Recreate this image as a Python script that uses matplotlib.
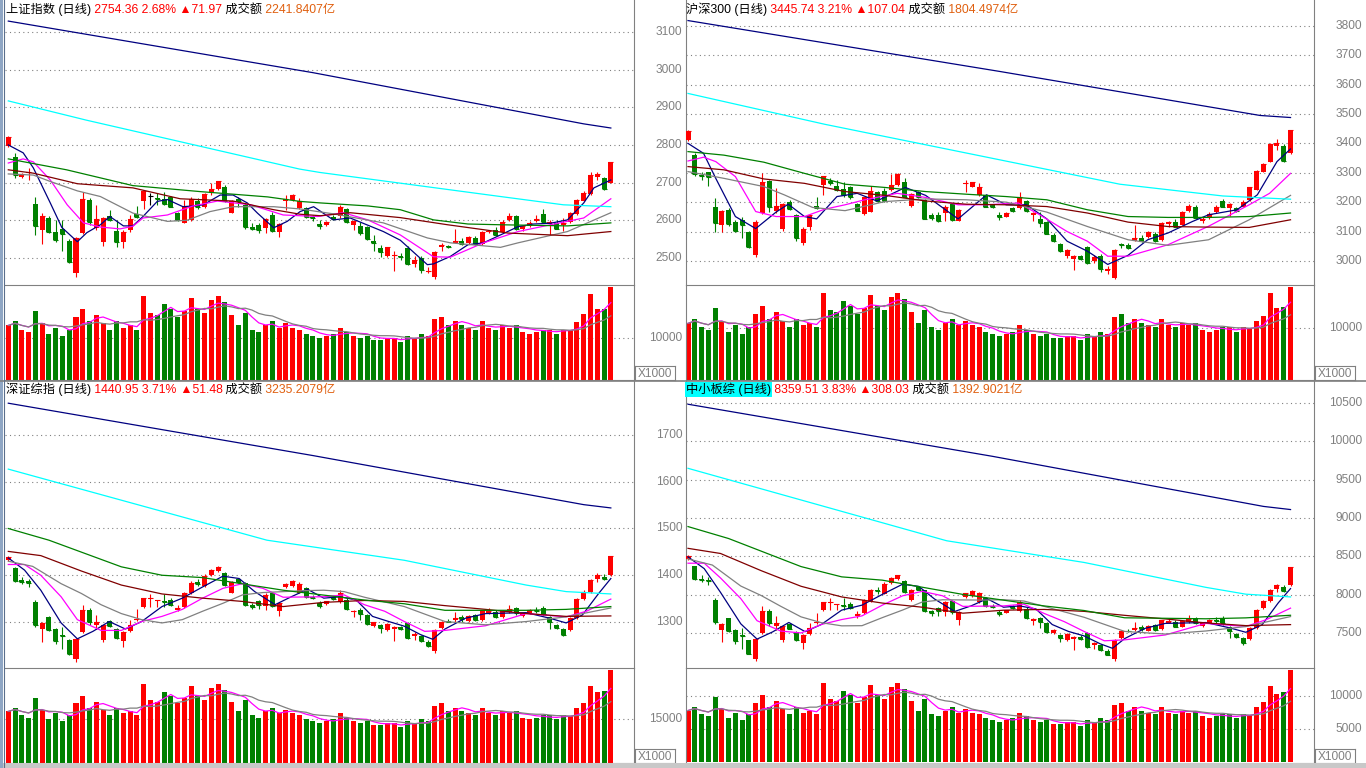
import matplotlib
matplotlib.use('Agg')
import matplotlib.pyplot as plt
import numpy as np
import pandas as pd

FONT = ['Liberation Sans', 'Noto Sans CJK SC', 'DejaVu Sans']
plt.rcParams['font.family'] = FONT

RED = '#FF0000'
GREEN = '#008000'
GRAY = '#808080'
ORANGE = '#E06010'
MA_COLORS = ['#000080', '#FF00FF', '#808080', '#800000', '#008000', '#00FFFF', '#000080']

# ---------------- 上证指数 ----------------
tl_open = [2796, 2769, 2716, 2725, 2643, 2574, 2607, 2569, 2576, 2546,
           2459, 2565, 2654, 2579, 2543, 2612, 2572, 2541, 2574, 2616,
           2650, 2665, 2660, 2657, 2662, 2620, 2594, 2601, 2651, 2635,
           2672, 2683, 2687, 2620, 2657, 2641, 2583, 2588, 2579, 2614,
           2568, 2650, 2654, 2632, 2632, 2609, 2590, 2588, 2608, 2610,
           2629, 2588, 2585, 2582, 2546, 2527, 2505, 2505, 2506, 2527,
           2484, 2501, 2462, 2449, 2530, 2532, 2539, 2546, 2539, 2554,
           2537, 2568, 2574, 2570, 2601, 2612, 2576, 2585, 2598, 2616,
           2590, 2592, 2588, 2595, 2616, 2652, 2670, 2716, 2713, 2700]
tl_high = [2824, 2778, 2725, 2738, 2663, 2619, 2612, 2601, 2601, 2549,
           2556, 2676, 2658, 2641, 2608, 2628, 2601, 2574, 2614, 2638,
           2678, 2672, 2673, 2676, 2664, 2622, 2654, 2663, 2658, 2672,
           2700, 2705, 2694, 2655, 2663, 2645, 2592, 2592, 2606, 2623,
           2592, 2667, 2670, 2658, 2636, 2614, 2601, 2598, 2614, 2641,
           2632, 2601, 2596, 2584, 2561, 2534, 2530, 2517, 2514, 2531,
           2505, 2505, 2477, 2517, 2539, 2535, 2576, 2554, 2557, 2557,
           2572, 2574, 2581, 2601, 2619, 2614, 2588, 2597, 2614, 2629,
           2601, 2601, 2605, 2622, 2656, 2679, 2729, 2729, 2716, 2756]
tl_low = [2794, 2712, 2713, 2707, 2561, 2537, 2565, 2541, 2519, 2486,
          2450, 2563, 2588, 2575, 2531, 2598, 2530, 2525, 2570, 2605,
          2629, 2640, 2641, 2640, 2634, 2598, 2592, 2598, 2630, 2632,
          2668, 2680, 2648, 2618, 2636, 2578, 2575, 2565, 2566, 2570,
          2556, 2627, 2650, 2630, 2605, 2598, 2578, 2586, 2600, 2607,
          2594, 2575, 2562, 2548, 2519, 2502, 2503, 2464, 2495, 2482,
          2477, 2459, 2459, 2443, 2519, 2527, 2539, 2535, 2537, 2534,
          2535, 2565, 2558, 2568, 2599, 2574, 2572, 2583, 2596, 2594,
          2561, 2576, 2572, 2593, 2614, 2650, 2667, 2707, 2680, 2698]
tl_close = [2822, 2720, 2722, 2729, 2585, 2610, 2569, 2548, 2564, 2488,
            2552, 2657, 2596, 2604, 2605, 2601, 2543, 2570, 2604, 2608,
            2678, 2665, 2657, 2642, 2636, 2601, 2635, 2656, 2635, 2670,
            2682, 2704, 2651, 2651, 2651, 2581, 2578, 2574, 2603, 2572,
            2589, 2656, 2667, 2651, 2608, 2606, 2585, 2596, 2603, 2635,
            2596, 2599, 2565, 2550, 2539, 2515, 2528, 2507, 2502, 2484,
            2495, 2468, 2464, 2515, 2535, 2529, 2545, 2537, 2555, 2537,
            2570, 2572, 2561, 2596, 2612, 2576, 2585, 2592, 2604, 2596,
            2596, 2578, 2592, 2619, 2654, 2673, 2720, 2722, 2682, 2754]
tl_vol = [13000, 14000, 12000, 11500, 16500, 13500, 11000, 12500, 10500, 12000,
          15000, 17000, 14000, 15500, 13500, 12000, 14000, 12500, 13000, 12000,
          20000, 16000, 15500, 18000, 17000, 15000, 16500, 19500, 17000, 16000,
          19000, 20000, 18500, 15500, 13000, 16000, 12000, 11500, 13000, 14000,
          12500, 13500, 12500, 12000, 11000, 10500, 10000, 10500, 11000, 12500,
          11500, 10500, 10000, 10500, 9500, 9500, 10000, 10000, 9000, 10500,
          10000, 11000, 10500, 14500, 15000, 13000, 14000, 13000, 12500, 12000,
          14000, 12500, 12000, 13000, 12500, 13000, 11500, 11000, 11500, 12000,
          12000, 11000, 12000, 11900, 13800, 15700, 20500, 16900, 16900, 22100]
# moving averages: (candle index, value)
tl_ma5 = [(0, 2800), (2.2, 2779), (3.7, 2739), (6.2, 2646), (7.9, 2581), (10.2, 2543),
          (11.6, 2567), (13.6, 2588), (15.0, 2610), (17.0, 2585), (18.4, 2585), (19.9, 2610),
          (22.0, 2650), (23.5, 2655), (25.8, 2636), (27.3, 2638), (28.8, 2641), (31.3, 2667),
          (33.2, 2667), (35.3, 2646), (36.8, 2619), (39.2, 2580), (41.2, 2597), (43.1, 2623),
          (45.1, 2636), (48.0, 2601), (50.5, 2606), (55.4, 2570), (57.9, 2547), (61.9, 2482),
          (62.8, 2484), (65.3, 2504), (67.9, 2535), (70.2, 2540), (72.7, 2561), (75.3, 2583),
          (77.6, 2590), (80.1, 2592), (82.6, 2601), (85.0, 2646), (86.5, 2686), (89, 2707)]
tl_ma10 = [(0, 2752), (2.2, 2763), (3.7, 2755), (6.2, 2707), (8.7, 2641), (11.1, 2593),
           (13.6, 2582), (16.5, 2577), (18.4, 2584), (19.9, 2606), (23.5, 2614), (27.3, 2638),
           (30.9, 2651), (35.8, 2641), (40.6, 2614), (45.7, 2610), (49.5, 2620), (53.1, 2601),
           (57.9, 2561), (62.8, 2503), (65.3, 2502), (70.2, 2540), (75.3, 2570), (80.1, 2588),
           (85.0, 2606), (89, 2657)]
tl_ma20 = [(0, 2723), (3.7, 2720), (6.2, 2703), (10.2, 2678), (13.6, 2663), (18.4, 2619),
           (23.5, 2597), (26.4, 2600), (29.8, 2623), (33.2, 2636), (39.2, 2636), (43.1, 2630),
           (48.0, 2617), (55.4, 2593), (61.9, 2553), (65.3, 2540), (72.7, 2528), (75.3, 2540),
           (82.6, 2570), (89, 2620)]
tl_ma30 = [(0, 2734), (3.7, 2725), (10.2, 2697), (18.4, 2686), (25.4, 2657), (33.2, 2651),
           (39.2, 2628), (43.1, 2616), (46.1, 2612), (50.5, 2620), (57.9, 2607), (64.9, 2588),
           (73.8, 2566), (82.6, 2559), (89, 2570)]
tl_ma60 = [(0, 2763), (8.6, 2734), (18.4, 2692), (28.4, 2676), (38.3, 2662), (43.1, 2650),
           (46.1, 2646), (53.1, 2638), (57.9, 2628), (62.8, 2601), (67.9, 2590), (72.7, 2588),
           (82.6, 2585), (89, 2593)]
tl_ma120 = [(0, 2917), (11.5, 2866), (43, 2736), (46, 2727), (72.7, 2663), (82, 2641), (89, 2636)]
tl_ma250 = [(0, 3129), (45, 2992), (85, 2856), (89, 2845)]

# ---------------- 沪深300 ----------------
tr_open = [3411, 3360, 3291, 3301, 3182, 3123, 3174, 3131, 3138, 3100,
           3019, 3163, 3272, 3171, 3110, 3202, 3155, 3061, 3117, 3186,
           3259, 3273, 3255, 3244, 3252, 3193, 3159, 3168, 3233, 3238,
           3242, 3259, 3270, 3188, 3233, 3206, 3155, 3155, 3163, 3195,
           3137, 3263, 3253, 3225, 3223, 3191, 3157, 3151, 3180, 3180,
           3204, 3157, 3142, 3134, 3087, 3058, 3018, 3008, 3016, 3047,
           2999, 3018, 2965, 2942, 3058, 3053, 3067, 3078, 3080, 3093,
           3072, 3126, 3134, 3123, 3171, 3185, 3137, 3146, 3166, 3204,
           3180, 3180, 3185, 3208, 3242, 3304, 3338, 3391, 3391, 3366]
tr_high = [3444, 3366, 3304, 3303, 3214, 3174, 3180, 3140, 3151, 3102,
           3138, 3298, 3276, 3247, 3196, 3208, 3159, 3117, 3159, 3219,
           3289, 3281, 3276, 3270, 3255, 3197, 3219, 3255, 3238, 3247,
           3295, 3298, 3281, 3230, 3238, 3209, 3163, 3166, 3191, 3197,
           3176, 3276, 3270, 3264, 3225, 3194, 3168, 3166, 3185, 3236,
           3208, 3168, 3168, 3137, 3095, 3061, 3042, 3021, 3019, 3050,
           3021, 3024, 2982, 3041, 3061, 3061, 3121, 3089, 3103, 3098,
           3132, 3137, 3143, 3171, 3194, 3189, 3151, 3166, 3191, 3211,
           3197, 3185, 3208, 3253, 3308, 3334, 3400, 3415, 3397, 3446]
tr_low = [3409, 3290, 3277, 3255, 3098, 3098, 3120, 3100, 3078, 3045,
          3012, 3160, 3166, 3163, 3101, 3174, 3067, 3055, 3106, 3177,
          3225, 3259, 3238, 3218, 3212, 3169, 3157, 3166, 3200, 3201,
          3238, 3256, 3216, 3185, 3213, 3141, 3140, 3133, 3137, 3135,
          3135, 3236, 3250, 3222, 3183, 3179, 3140, 3148, 3168, 3177,
          3168, 3137, 3117, 3090, 3066, 3030, 3010, 2968, 3002, 2990,
          2993, 2963, 2956, 2937, 3044, 3041, 3067, 3066, 3078, 3066,
          3069, 3117, 3114, 3121, 3168, 3143, 3129, 3143, 3163, 3182,
          3154, 3168, 3182, 3205, 3240, 3301, 3335, 3378, 3337, 3364]
tr_close = [3442, 3295, 3288, 3284, 3128, 3171, 3125, 3103, 3121, 3047,
            3134, 3270, 3185, 3188, 3194, 3177, 3078, 3110, 3155, 3180,
            3289, 3264, 3241, 3223, 3216, 3171, 3216, 3238, 3204, 3204,
            3259, 3295, 3219, 3228, 3216, 3143, 3146, 3137, 3185, 3140,
            3174, 3265, 3268, 3253, 3185, 3182, 3148, 3163, 3171, 3219,
            3171, 3162, 3129, 3093, 3069, 3033, 3038, 3018, 3005, 2993,
            3012, 2974, 2971, 3038, 3055, 3044, 3078, 3069, 3097, 3069,
            3129, 3131, 3117, 3168, 3188, 3146, 3143, 3160, 3185, 3185,
            3194, 3171, 3202, 3250, 3306, 3330, 3398, 3400, 3340, 3446]
tr_vol = [10900, 11800, 10100, 9700, 13900, 11300, 9200, 10500, 8800, 10100,
          12600, 14300, 11800, 13000, 11300, 10100, 11800, 10500, 10900, 10100,
          16800, 13400, 13000, 15100, 14300, 12600, 13900, 16400, 14300, 13400,
          16000, 16800, 15500, 13000, 10900, 13400, 10100, 9700, 10900, 11800,
          10500, 11300, 10500, 10100, 9200, 8800, 8400, 8800, 9200, 10500,
          9700, 8800, 8400, 8800, 8000, 8000, 8400, 8400, 7600, 8800,
          8400, 9200, 8800, 12200, 12600, 10900, 11800, 10900, 10500, 10100,
          11800, 10500, 10100, 10900, 10500, 10900, 9700, 9200, 9700, 10100,
          10100, 9200, 10100, 10000, 11300, 12300, 16700, 13850, 14000, 17900]
tr_ma5 = [(0, 3400), (2.3, 3366), (4.1, 3281), (7.0, 3151), (10.0, 3110), (13.0, 3166),
          (14.8, 3193), (17.2, 3151), (19.0, 3143), (22.0, 3219), (25.0, 3230), (27.9, 3204),
          (32.1, 3250), (35.1, 3223), (39.9, 3143), (44.1, 3225), (47.0, 3191), (50.0, 3191),
          (53.0, 3143), (56.0, 3067), (59.0, 3033), (62.0, 2988), (65.0, 3019), (67.9, 3072),
          (70.9, 3095), (74.5, 3134), (76.9, 3157), (81.1, 3174), (84.1, 3225), (87.0, 3338),
          (89, 3381)]
tr_ma10 = [(0, 3340), (2.3, 3353), (4.1, 3338), (7.0, 3287), (10.0, 3168), (13.0, 3151),
           (17.2, 3151), (20.2, 3176), (23.2, 3191), (26.1, 3208), (30.9, 3230), (35.1, 3216),
           (39.9, 3191), (44.1, 3191), (48.8, 3197), (51.8, 3159), (56.0, 3100), (59.0, 3067),
           (62.0, 3016), (65.0, 3016), (70.9, 3055), (76.9, 3118), (82.9, 3191), (85.9, 3230),
           (89, 3298)]
tr_ma20 = [(0, 3304), (5.3, 3281), (11.2, 3253), (14.2, 3225), (18.4, 3182), (23.2, 3171),
           (29.1, 3202), (35.1, 3211), (41.1, 3208), (47.0, 3200), (53.0, 3166), (59.0, 3117),
           (65.0, 3072), (70.9, 3053), (76.9, 3072), (82.9, 3140), (89, 3223)]
tr_ma30 = [(0, 3321), (5.3, 3310), (11.2, 3279), (17.2, 3264), (23.2, 3236), (29.1, 3223),
           (35.1, 3204), (41.1, 3193), (47.0, 3191), (53.0, 3185), (59.0, 3163), (65.0, 3132),
           (70.9, 3117), (76.9, 3115), (82.9, 3114), (89, 3140)]
tr_ma60 = [(0, 3372), (5.3, 3360), (11.2, 3336), (17.2, 3298), (23.2, 3261), (29.1, 3250),
           (35.1, 3236), (41.1, 3227), (47.0, 3219), (53.0, 3208), (59.0, 3174), (65.0, 3151),
           (70.9, 3148), (76.9, 3148), (82.9, 3151), (89, 3163)]
tr_ma120 = [(0, 3570), (20.2, 3465), (63.8, 3261), (79, 3221), (89, 3210)]
tr_ma250 = [(0, 3818), (46, 3645), (84.5, 3495), (89, 3488)]

# ---------------- 深证综指 ----------------
bl_open = [1432, 1416, 1389, 1387, 1342, 1284, 1311, 1284, 1273, 1261,
           1220, 1278, 1326, 1294, 1261, 1303, 1284, 1259, 1280, 1304,
           1333, 1349, 1344, 1345, 1347, 1326, 1333, 1361, 1386, 1377,
           1400, 1409, 1405, 1363, 1391, 1384, 1337, 1344, 1335, 1361,
           1323, 1374, 1377, 1363, 1372, 1354, 1340, 1339, 1353, 1342,
           1347, 1321, 1326, 1315, 1292, 1294, 1282, 1285, 1289, 1298,
           1270, 1271, 1257, 1238, 1287, 1303, 1305, 1311, 1303, 1315,
           1305, 1320, 1322, 1311, 1322, 1330, 1313, 1320, 1326, 1330,
           1311, 1294, 1284, 1282, 1308, 1349, 1365, 1391, 1396, 1400]
bl_high = [1441, 1418, 1396, 1393, 1346, 1299, 1312, 1287, 1289, 1263,
           1266, 1337, 1330, 1315, 1294, 1305, 1287, 1280, 1305, 1327,
           1351, 1360, 1347, 1360, 1351, 1337, 1365, 1388, 1391, 1403,
           1414, 1419, 1407, 1388, 1393, 1386, 1340, 1347, 1361, 1363,
           1342, 1384, 1389, 1386, 1375, 1358, 1344, 1345, 1356, 1368,
           1351, 1326, 1330, 1318, 1301, 1296, 1298, 1291, 1292, 1299,
           1278, 1273, 1261, 1284, 1303, 1306, 1322, 1315, 1315, 1318,
           1326, 1330, 1326, 1326, 1337, 1332, 1320, 1327, 1333, 1335,
           1313, 1296, 1287, 1310, 1351, 1368, 1391, 1404, 1402, 1441]
bl_low = [1430, 1386, 1382, 1374, 1289, 1257, 1280, 1254, 1242, 1230,
          1215, 1276, 1294, 1284, 1257, 1290, 1263, 1247, 1278, 1303,
          1331, 1333, 1333, 1333, 1335, 1323, 1331, 1359, 1377, 1375,
          1398, 1407, 1378, 1361, 1384, 1335, 1327, 1327, 1326, 1332,
          1312, 1372, 1375, 1361, 1352, 1349, 1331, 1337, 1347, 1340,
          1325, 1311, 1305, 1294, 1290, 1277, 1280, 1259, 1282, 1264,
          1261, 1257, 1247, 1234, 1285, 1299, 1301, 1301, 1301, 1303,
          1303, 1318, 1309, 1309, 1320, 1316, 1311, 1318, 1320, 1315,
          1284, 1285, 1270, 1280, 1306, 1347, 1363, 1386, 1389, 1399]
bl_close = [1440, 1388, 1386, 1384, 1294, 1298, 1282, 1259, 1270, 1232,
            1264, 1326, 1299, 1299, 1294, 1292, 1266, 1278, 1294, 1306,
            1351, 1351, 1346, 1342, 1337, 1330, 1363, 1384, 1382, 1398,
            1411, 1418, 1380, 1386, 1386, 1337, 1333, 1337, 1358, 1335,
            1340, 1382, 1387, 1382, 1354, 1351, 1335, 1344, 1349, 1363,
            1327, 1324, 1318, 1296, 1299, 1287, 1296, 1289, 1284, 1266,
            1275, 1259, 1249, 1282, 1301, 1301, 1308, 1306, 1313, 1305,
            1325, 1324, 1311, 1324, 1327, 1319, 1319, 1325, 1323, 1318,
            1301, 1287, 1273, 1308, 1349, 1365, 1389, 1400, 1391, 1441]
bl_vol = [17600, 18900, 16200, 15500, 22300, 18200, 14900, 16900, 14200, 16200,
          20300, 23000, 18900, 20900, 18200, 16200, 18900, 16900, 17600, 16200,
          27000, 21600, 20900, 24300, 23000, 20300, 22300, 26300, 23000, 21600,
          25700, 27000, 25000, 20900, 17600, 21600, 16200, 15500, 17600, 18900,
          16900, 18200, 16900, 16200, 14900, 14200, 13500, 14200, 14900, 16900,
          15500, 14200, 13500, 14200, 12800, 12800, 13500, 13500, 12200, 14200,
          13500, 14900, 14200, 19600, 20300, 17600, 18900, 17600, 16900, 16200,
          18900, 16900, 16200, 17600, 16900, 17600, 15500, 14900, 15500, 16200,
          16200, 14900, 16200, 16100, 18600, 20460, 26250, 24200, 24550, 31700]
bl_ma5 = [(0, 1437), (2.4, 1411), (4.8, 1368), (7.8, 1298), (10.2, 1264), (12.5, 1280),
          (14.9, 1301), (17.3, 1285), (19.7, 1301), (22.7, 1333), (25.7, 1351), (28.7, 1375),
          (31.7, 1398), (34.1, 1393), (36.4, 1365), (39.4, 1337), (41.8, 1354), (44.2, 1370),
          (46.6, 1351), (49.0, 1354), (51.4, 1347), (53.8, 1312), (56.2, 1301), (58.5, 1291),
          (60.9, 1273), (62.7, 1263), (64.5, 1285), (67.5, 1308), (70.5, 1318), (76.5, 1320),
          (80.0, 1308), (82.4, 1298), (84.8, 1315), (87.2, 1361), (89, 1393)]
bl_ma10 = [(0, 1423), (2.4, 1423), (4.8, 1400), (7.8, 1354), (10.2, 1305), (13.7, 1282),
           (16.7, 1282), (19.7, 1301), (22.7, 1312), (25.7, 1327), (28.7, 1351), (31.7, 1372),
           (34.6, 1382), (37.6, 1372), (40.6, 1353), (46.6, 1354), (49.6, 1358), (52.6, 1337),
           (55.6, 1323), (58.5, 1301), (61.5, 1280), (64.5, 1282), (70.5, 1292), (76.5, 1318),
           (82.4, 1311), (85.4, 1323), (89, 1349)]
bl_ma20 = [(0, 1430), (3.6, 1419), (7.8, 1382), (10.8, 1361), (13.7, 1337), (16.7, 1318),
           (19.7, 1305), (22.7, 1298), (25.7, 1305), (28.7, 1323), (31.7, 1340), (34.6, 1358),
           (37.6, 1363), (43.6, 1367), (46.6, 1368), (49.6, 1365), (52.6, 1353), (58.5, 1333),
           (64.5, 1301), (70.5, 1294), (76.5, 1301), (82.4, 1311), (89, 1330)]
bl_ma30 = [(0, 1451), (4.8, 1442), (10.8, 1409), (16.7, 1379), (22.7, 1360), (28.7, 1351),
           (34.6, 1344), (40.6, 1333), (46.6, 1342), (52.6, 1346), (58.5, 1344), (64.5, 1335),
           (70.5, 1327), (76.5, 1318), (82.4, 1312), (89, 1313)]
bl_ma60 = [(0, 1500), (6.0, 1475), (16.7, 1418), (22.7, 1400), (28.7, 1395), (40.6, 1368),
           (52.6, 1347), (58.5, 1339), (64.5, 1325), (76.5, 1325), (82.4, 1327), (89, 1333)]
bl_ma120 = [(0, 1627), (38.2, 1475), (58.5, 1432), (76.5, 1379), (82.4, 1365), (89, 1360)]
bl_ma250 = [(0, 1768), (45, 1656), (85, 1551), (89, 1544)]

# ---------------- 中小板综 ----------------
br_open = [8463, 8369, 8209, 8197, 7931, 7537, 7696, 7537, 7473, 7402,
           7161, 7502, 7784, 7596, 7402, 7623, 7511, 7365, 7488, 7628,
           7798, 7892, 7862, 7868, 7880, 7717, 7758, 7921, 8067, 8014,
           8148, 8200, 8177, 7933, 8096, 8055, 7781, 7822, 7770, 7921,
           7673, 7969, 7987, 7905, 7958, 7853, 7772, 7766, 7847, 7784,
           7813, 7662, 7691, 7627, 7494, 7479, 7410, 7427, 7450, 7502,
           7341, 7346, 7265, 7156, 7439, 7531, 7543, 7578, 7531, 7601,
           7549, 7636, 7648, 7584, 7648, 7694, 7596, 7636, 7671, 7694,
           7584, 7486, 7428, 7416, 7567, 7824, 7917, 8068, 8097, 8120]
br_high = [8516, 8380, 8250, 8233, 7955, 7625, 7701, 7555, 7566, 7414,
           7431, 7848, 7807, 7719, 7596, 7634, 7529, 7488, 7634, 7763,
           7903, 7956, 7880, 7956, 7903, 7781, 7944, 8078, 8096, 8165,
           8230, 8259, 8189, 8078, 8107, 8067, 7799, 7840, 7921, 7933,
           7784, 8027, 8056, 8039, 7975, 7876, 7795, 7801, 7865, 7934,
           7836, 7691, 7714, 7644, 7546, 7491, 7502, 7462, 7468, 7508,
           7387, 7358, 7289, 7422, 7531, 7549, 7641, 7601, 7601, 7618,
           7671, 7694, 7671, 7671, 7735, 7706, 7636, 7677, 7711, 7723,
           7596, 7497, 7445, 7578, 7816, 7934, 8068, 8143, 8132, 8362]
br_low = [8451, 8191, 8168, 8120, 7618, 7379, 7514, 7361, 7291, 7220,
          7132, 7490, 7596, 7537, 7379, 7547, 7389, 7295, 7476, 7623,
          7786, 7798, 7798, 7798, 7810, 7700, 7746, 7909, 8014, 8003,
          8136, 8189, 8020, 7921, 8055, 7770, 7723, 7723, 7717, 7752,
          7610, 7958, 7975, 7894, 7842, 7824, 7720, 7755, 7813, 7772,
          7685, 7604, 7569, 7505, 7482, 7381, 7398, 7277, 7410, 7306,
          7289, 7265, 7208, 7133, 7427, 7508, 7520, 7520, 7520, 7531,
          7538, 7625, 7573, 7573, 7636, 7613, 7584, 7625, 7636, 7607,
          7428, 7434, 7347, 7405, 7555, 7813, 7905, 8039, 8040, 8114]
br_close = [8510, 8203, 8191, 8179, 7648, 7619, 7525, 7390, 7455, 7232,
            7420, 7784, 7625, 7625, 7596, 7558, 7406, 7476, 7570, 7640,
            7903, 7903, 7874, 7851, 7821, 7741, 7933, 8055, 8043, 8136,
            8212, 8253, 8032, 8067, 8067, 7781, 7758, 7781, 7904, 7770,
            7772, 8016, 8045, 8016, 7853, 7836, 7743, 7795, 7824, 7905,
            7697, 7679, 7644, 7517, 7534, 7439, 7491, 7450, 7422, 7317,
            7370, 7277, 7219, 7410, 7520, 7520, 7560, 7549, 7589, 7543,
            7665, 7659, 7584, 7659, 7677, 7630, 7630, 7665, 7654, 7625,
            7526, 7445, 7364, 7567, 7804, 7917, 8056, 8120, 8051, 8360]
br_vol = [7800, 8400, 7200, 6900, 9900, 8100, 6600, 7500, 6300, 7200,
          9000, 10200, 8400, 9300, 8100, 7200, 8400, 7500, 7800, 7200,
          12000, 9600, 9300, 10800, 10200, 9000, 9900, 11700, 10200, 9600,
          11400, 12000, 11100, 9300, 7800, 9600, 7200, 6900, 7800, 8400,
          7500, 8100, 7500, 7200, 6600, 6300, 6000, 6300, 6600, 7500,
          6900, 6300, 6000, 6300, 5700, 5700, 6000, 6000, 5400, 6300,
          6000, 6600, 6300, 8700, 9000, 7800, 8400, 7800, 7500, 7200,
          8400, 7500, 7200, 7800, 7500, 7800, 6900, 6600, 6900, 7200,
          7200, 6600, 7200, 7100, 8300, 9140, 11560, 10300, 10650, 13940]
br_ma5 = [(0, 8493), (2.4, 8339), (4.8, 8030), (7.8, 7619), (10.2, 7420), (12.5, 7514),
          (14.9, 7637), (17.3, 7517), (19.7, 7611), (22.7, 7798), (25.7, 7863), (28.7, 8003),
          (31.7, 8136), (34.1, 8107), (36.4, 7944), (39.4, 7781), (41.8, 7853), (44.2, 7946),
          (46.6, 7836), (49.0, 7853), (51.4, 7813), (53.8, 7610), (56.2, 7520), (58.5, 7462),
          (60.9, 7358), (62.7, 7300), (64.5, 7427), (67.5, 7560), (70.5, 7625), (76.5, 7636),
          (80.0, 7567), (82.4, 7509), (84.8, 7607), (87.2, 7894), (89, 8079)]
br_ma10 = [(0, 8410), (2.4, 8410), (4.8, 8218), (7.8, 7948), (10.2, 7660), (13.7, 7525),
           (16.7, 7500), (19.7, 7611), (22.7, 7675), (25.7, 7723), (28.7, 7863), (31.7, 7985),
           (34.6, 8043), (37.6, 7985), (40.6, 7847), (46.6, 7853), (49.6, 7876), (52.6, 7755),
           (55.6, 7647), (58.5, 7520), (61.5, 7398), (64.5, 7410), (70.5, 7474), (76.5, 7625),
           (82.4, 7584), (85.4, 7673), (89, 7824)]
br_ma20 = [(0, 8466), (3.6, 8386), (7.8, 8112), (10.8, 7989), (13.7, 7848), (16.7, 7710),
           (19.7, 7634), (22.7, 7593), (25.7, 7595), (28.7, 7700), (31.7, 7799), (34.6, 7904),
           (37.6, 7933), (43.6, 7929), (46.6, 7934), (49.6, 7917), (52.6, 7847), (58.5, 7705),
           (64.5, 7520), (70.5, 7486), (76.5, 7526), (82.4, 7584), (89, 7714)]
br_ma30 = [(0, 8604), (4.8, 8537), (10.8, 8313), (16.7, 8109), (22.7, 7970), (28.7, 7890),
           (34.6, 7836), (40.6, 7758), (46.6, 7797), (52.6, 7807), (58.5, 7782), (64.5, 7730),
           (70.5, 7683), (76.5, 7631), (82.4, 7596), (89, 7609)]
br_ma60 = [(0, 8888), (6.0, 8732), (16.7, 8366), (22.7, 8232), (28.7, 8189), (40.6, 8003),
           (52.6, 7853), (58.5, 7793), (64.5, 7698), (76.5, 7685), (82.4, 7697), (89, 7731)]
br_ma120 = [(0, 9648), (38.2, 8703), (58.5, 8420), (76.5, 8095), (82.4, 8006), (89, 7970)]
br_ma250 = [(0, 10484), (45, 9804), (85, 9151), (89, 9110)]


def pts(p):
    a = np.array(p, dtype=float)
    return a[:, 0], a[:, 1]


W, H = 1366, 768
fig = plt.figure(figsize=(W / 100, H / 100), dpi=100)
fig.patch.set_facecolor('white')


def px_axes(x0, y0, x1, y1):
    return fig.add_axes([x0 / W, 1 - y1 / H, (x1 - x0) / W, (y1 - y0) / H])


def style(ax, x0, x1, first_px, left_spine):
    sp = 6.77
    ax.set_xlim((x0 - first_px) / sp, (x1 - first_px) / sp)
    ax.set_xticks([])
    ax.set_yticks([])
    for s in ['top', 'left']:
        ax.spines[s].set_visible(False)
    for s in ['right', 'bottom']:
        ax.spines[s].set_color(GRAY)
        ax.spines[s].set_linewidth(0.8)
    if left_spine:
        ax.spines['left'].set_visible(True)
        ax.spines['left'].set_color(GRAY)
        ax.spines['left'].set_linewidth(0.8)
    ax.patch.set_alpha(0)


def yticks(ax, ticks):
    for t in ticks:
        ax.axhline(t, color=GRAY, lw=0.8, ls=(0, (1, 3)), zorder=1)
        ax.text(1.0764, t, str(t), transform=ax.get_yaxis_transform(), ha='right', va='center',
                color=GRAY, fontsize=8.6, clip_on=False)


def candles(ax, o, h, l, c):
    o, h, l, c = (np.asarray(v, dtype=float) for v in (o, h, l, c))
    idx = np.arange(len(c))
    cols = np.where(c > o, RED, np.where(c < o, GREEN, 'black'))
    ax.vlines(idx, l, h, colors=cols, lw=0.8, zorder=2)
    ax.bar(idx, np.abs(c - o), bottom=np.minimum(o, c), width=0.74, color=cols, lw=0, zorder=3)
    ax.hlines(c, idx - 0.37, idx + 0.37, colors=cols, lw=0.8, zorder=3)
    return np.where(c >= o, RED, GREEN)


def panel(x0, x1, ytop, ysplit, ybot, first_px, left_spine, o, h, l, c, vol, mas,
          plim, pticks, vlim, vticks):
    ax = px_axes(x0, ytop, x1, ysplit)
    av = px_axes(x0, ysplit, x1, ybot)
    style(ax, x0, x1, first_px, left_spine)
    style(av, x0, x1, first_px, left_spine)
    ax.set_ylim(*plim)
    av.set_ylim(*vlim)
    yticks(ax, pticks)
    yticks(av, vticks)
    cols = candles(ax, o, h, l, c)
    for m, col in zip(mas, MA_COLORS):
        xs, ys = pts(m)
        ax.plot(xs, ys, color=col, lw=0.9, zorder=4)
    idx = np.arange(len(vol))
    av.bar(idx, vol, width=0.74, color=cols, lw=0, zorder=2)
    v = pd.Series(vol, dtype=float)
    av.plot(idx, v.rolling(5, min_periods=1).mean(), color='#FF00FF', lw=0.9, zorder=3)
    av.plot(idx, v.rolling(10, min_periods=1).mean(), color=GRAY, lw=0.9, zorder=3)
    # X1000 box
    bx = fig.add_axes([(x1 + 1) / W, 1 - ybot / H, 40 / W, 14 / H])
    bx.set_xticks([])
    bx.set_yticks([])
    for s in bx.spines.values():
        s.set_color(GRAY)
    bx.text(0.5, 0.45, 'X1000', ha='center', va='center', color=GRAY, fontsize=8.6,
            transform=bx.transAxes)
    return ax


def header(x_px, y_px, parts, bg=None):
    r = fig.canvas.get_renderer()
    x = x_px
    for k, (txt, col) in enumerate(parts):
        t = fig.text(x / W, 1 - y_px / H, txt, color=col, fontsize=8.8, ha='left',
                     va='baseline', family=FONT)
        if k == 0 and bg:
            t.set_bbox(dict(facecolor=bg, edgecolor='none', pad=0.6))
        x = t.get_window_extent(renderer=r).x1


panel(5, 634, 0, 285, 380, 8.3, False, tl_open, tl_high, tl_low, tl_close, tl_vol,
      [tl_ma5, tl_ma10, tl_ma20, tl_ma30, tl_ma60, tl_ma120, tl_ma250],
      (2428, 3185), [2500, 2600, 2700, 2800, 2900, 3000, 3100], (0, 22620), [10000])
panel(686, 1314, 0, 285, 380, 688, True, tr_open, tr_high, tr_low, tr_close, tr_vol,
      [tr_ma5, tr_ma10, tr_ma20, tr_ma30, tr_ma60, tr_ma120, tr_ma250],
      (2918, 3888), [3000, 3100, 3200, 3300, 3400, 3500, 3600, 3700, 3800], (0, 18270), [10000])
panel(5, 634, 381, 668, 763, 8.3, False, bl_open, bl_high, bl_low, bl_close, bl_vol,
      [bl_ma5, bl_ma10, bl_ma20, bl_ma30, bl_ma60, bl_ma120, bl_ma250],
      (1201.6, 1815.5), [1300, 1400, 1500, 1600, 1700], (0, 32386), [15000])
panel(686, 1314, 381, 668, 763, 688, True, br_open, br_high, br_low, br_close, br_vol,
      [br_ma5, br_ma10, br_ma20, br_ma30, br_ma60, br_ma120, br_ma250],
      (7043, 10787), [7500, 8000, 8500, 9000, 9500, 10000, 10500], (-150, 14242), [5000, 10000])

# frame lines
fig.add_artist(plt.Line2D([0, 1], [1 - 381 / H, 1 - 381 / H], color=GRAY, lw=1.2))
fig.add_artist(plt.Rectangle((0, 0), 1, 5 / H, color='#C8C8C8', lw=0))
fig.add_artist(plt.Rectangle((0, 0), 3 / W, 1, color='#8FA6C4', lw=0))
fig.add_artist(plt.Line2D([3.5 / W, 3.5 / W], [0, 1], color='#5A6E8C', lw=0.8))

header(6, 13, [('上证指数 (日线)', 'black'), (' 2754.36 2.68%', RED), (' ▲71.97', RED),
               (' 成交额', 'black'), (' 2241.8407亿', ORANGE)])
header(686, 13, [('沪深300 (日线)', 'black'), (' 3445.74 3.21%', RED), (' ▲107.04', RED),
                 (' 成交额', 'black'), (' 1804.4974亿', ORANGE)])
header(6, 393, [('深证综指 (日线)', 'black'), (' 1440.95 3.71%', RED), (' ▲51.48', RED),
                (' 成交额', 'black'), (' 3235.2079亿', ORANGE)])
header(686, 393, [('中小板综 (日线)', 'black'), (' 8359.51 3.83%', RED), (' ▲308.03', RED),
                  (' 成交额', 'black'), (' 1392.9021亿', ORANGE)], bg='#00FFFF')

fig.savefig('out.png', dpi=100, facecolor='white')
